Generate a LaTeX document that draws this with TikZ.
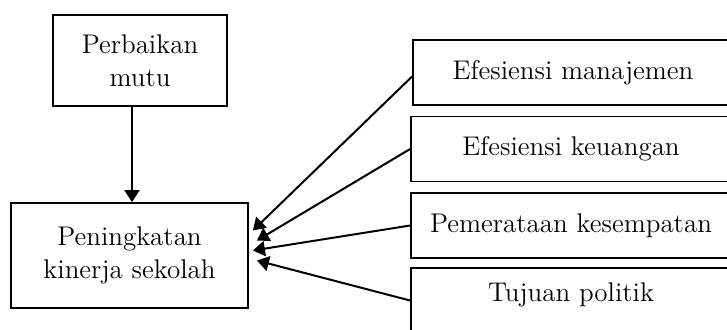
\documentclass[tikz,border=0pt]{standalone}
\usepackage{tikz}
\usetikzlibrary{positioning,arrows.meta}

\begin{document}
\begin{tikzpicture}[
  x=0.5pt, y=-0.5pt,
  every node/.style={font=\fontsize{13.5}{16.5}\selectfont},
  box/.style={draw=black, line width=0.9pt, align=center, inner sep=2pt},
  sbox/.style={box, minimum width=160pt, minimum height=32.5pt},
  arr/.style={-{Triangle[length=6pt, width=7.5pt]}, line width=1pt, draw=black}
]
\useasboundingbox (0,0) rectangle (727,329);

% Left column: cause and result
\node[box, minimum width=87pt, minimum height=45.5pt] (mutu) at (140,60.5) {Perbaikan\\mutu};
\node[box, minimum width=118.5pt, minimum height=52.5pt] (kinerja) at (129.5,255.5) {Peningkatan\\kinerja sekolah};

% Right column: four factors
\node[sbox] (man) at (573,72.5) {Efesiensi manajemen};
\node[sbox] (keu) at (571,149) {Efesiensi keuangan};
\node[sbox] (pem) at (571,225.5) {Pemerataan kesempatan};
\node[sbox, text depth=8pt] (pol) at (571,300.5) {Tujuan politik};

% Connections
\draw[arr] ([xshift=-4pt]mutu.south) -- ([xshift=-4pt]mutu.south |- kinerja.north);
\draw[arr] ([yshift=-2pt]man.west) -- ([xshift=2pt, yshift=12.5pt]kinerja.east);
\draw[arr] (keu.west) -- ([xshift=4pt, yshift=7.5pt]kinerja.east);
\draw[arr] (pem.west) -- ([xshift=2pt, yshift=2.5pt]kinerja.east);
\draw[arr] (pol.west) -- ([xshift=4pt, yshift=-2.5pt]kinerja.east);
\end{tikzpicture}
\end{document}
